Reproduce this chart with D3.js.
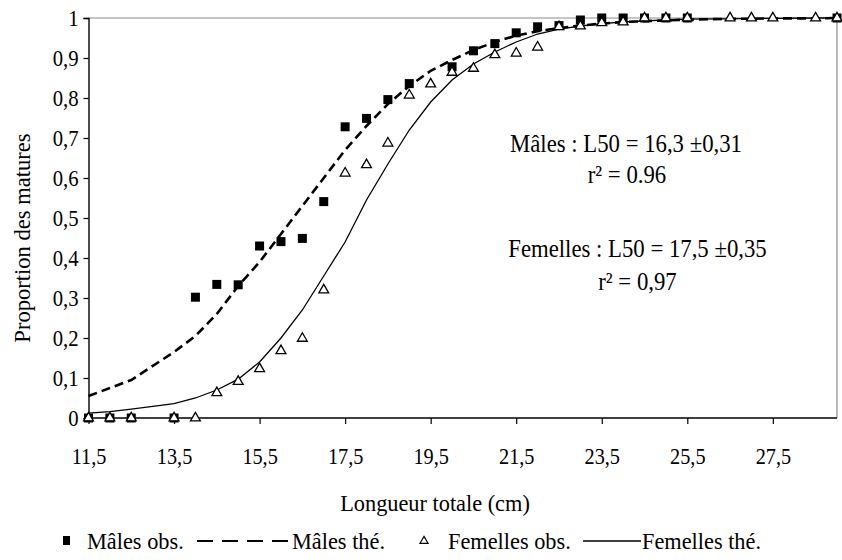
<!DOCTYPE html>
<html>
<head>
<meta charset="utf-8">
<script src="https://cdn.jsdelivr.net/npm/d3@7"></script>
<style>
  html, body { margin: 0; padding: 0; background: #fff; }
  svg { display: block; }
  text { font-family: "Liberation Serif", "DejaVu Serif", "Times New Roman", serif; fill: #000; }
</style>
</head>
<body>
<svg id="chart" width="842" height="560"></svg>
<script>
// ---- data ----
const lengths = [11.5, 12, 12.5, 13.5, 14, 14.5, 15, 15.5, 16, 16.5, 17, 17.5, 18, 18.5, 19, 19.5, 20, 20.5, 21, 21.5, 22, 22.5, 23, 23.5, 24, 24.5, 25, 25.5, 26.5, 27, 27.5, 28.5, 29];
const malesObs = [0, 0, 0, 0, 0.302, 0.334, 0.333, 0.43, 0.441, 0.449, 0.541, 0.728, 0.749, 0.796, 0.836, null, 0.878, 0.918, 0.936, 0.963, 0.978, 0.981, 0.995, 1, 1, 1, 1, 1, null, null, null, null, 1];
const malesThe = [0.055, 0.075, 0.095, 0.165, 0.205, 0.26, 0.33, 0.39, 0.46, 0.53, 0.6, 0.67, 0.73, 0.785, 0.83, 0.868, 0.895, 0.92, 0.94, 0.956, 0.967, 0.975, 0.981, 0.986, 0.99, 0.992, 0.994, 0.996, 0.998, 0.998, 0.999, 0.999, 1];
const femellesObs = [0, 0, 0, 0, 0, 0.063, 0.091, 0.123, 0.168, 0.199, 0.32, 0.612, 0.633, 0.687, 0.807, 0.835, 0.864, 0.874, 0.908, 0.912, 0.927, 0.978, 0.98, 0.988, 0.99, 1, 1, 1, 1, 1, 1, 1, 1];
const femellesThe = [0.012, 0.016, 0.022, 0.036, 0.05, 0.07, 0.097, 0.14, 0.2, 0.27, 0.355, 0.44, 0.545, 0.635, 0.72, 0.79, 0.845, 0.885, 0.915, 0.94, 0.96, 0.972, 0.98, 0.986, 0.99, 0.993, 0.995, 0.997, 0.998, 0.999, 0.999, 1, 1];
const xTicks = [11.5, 13.5, 15.5, 17.5, 19.5, 21.5, 23.5, 25.5, 27.5];
const yTicks = [0, 0.1, 0.2, 0.3, 0.4, 0.5, 0.6, 0.7, 0.8, 0.9, 1];
const xTitle = "Longueur totale (cm)";
const yTitle = "Proportion des matures";
const legendLabels = ["Mâles obs.", "Mâles thé.", "Femelles obs.", "Femelles thé."];
const notes = [
  ["Mâles : L50 = 16,3 ±0,31", "r² = 0.96"],
  ["Femelles : L50 = 17,5 ±0,35", "r² = 0,97"]
];

// ---- helpers ----
const FONT = "Liberation Serif";
function condense(sel, k) {
  sel.each(function () {
    const w = this.getComputedTextLength();
    d3.select(this).attr("textLength", w * k).attr("lengthAdjust", "spacingAndGlyphs");
  });
  return sel;
}

// ---- layout ----
const svg = d3.select("#chart");
const x = d3.scaleLinear().domain([11.5, 29]).range([88.5, 837]);
const y = d3.scaleLinear().domain([0, 1]).range([418, 18]);
const fmt = v => String(v).replace(".", ",");

// frame (gray top and right)
svg.append("line").attr("x1", x(11.5)).attr("x2", x(29)).attr("y1", y(1)).attr("y2", y(1))
  .attr("stroke", "#8c8c8c").attr("stroke-width", 1.2);
svg.append("line").attr("x1", x(29)).attr("x2", x(29)).attr("y1", y(1)).attr("y2", y(0))
  .attr("stroke", "#8c8c8c").attr("stroke-width", 1.2);

// y axis
const yAxis = svg.append("g").attr("transform", `translate(${x(11.5)},0)`)
  .call(d3.axisLeft(y).tickValues(yTicks).tickSize(5).tickPadding(5).tickFormat(fmt));
yAxis.attr("font-family", null).attr("font-size", null);
yAxis.select(".domain").attr("stroke", "#000").attr("stroke-width", 1.4);
yAxis.selectAll(".tick line").attr("stroke", "#000").attr("stroke-width", 1.2);
condense(yAxis.selectAll(".tick text").style("font-family", FONT).style("font-size", "23px").attr("fill", "#000"), 0.9);

// x axis
const xAxis = svg.append("g").attr("transform", `translate(0,${y(0)})`)
  .call(d3.axisBottom(x).tickValues(xTicks).tickSize(6).tickPadding(24).tickFormat(fmt));
xAxis.attr("font-family", null).attr("font-size", null);
xAxis.select(".domain").attr("stroke", "#000").attr("stroke-width", 1.4).attr("d", `M${x(11.5)},0H${x(29)}`);
xAxis.selectAll(".tick line").attr("stroke", "#000").attr("stroke-width", 1.2);
condense(xAxis.selectAll(".tick text").style("font-family", FONT).style("font-size", "23px").attr("fill", "#000"), 0.88);

// titles
condense(svg.append("text").attr("x", 435).attr("y", 511).attr("text-anchor", "middle")
  .style("font-size", "24px").text(xTitle), 0.93);
condense(svg.append("text").attr("transform", "translate(30,238) rotate(-90)").attr("text-anchor", "middle")
  .style("font-size", "24px").text(yTitle), 0.94);

// lines
const lineGen = arr => d3.line()
  .defined((d, i) => arr[i] != null)
  .x((d, i) => x(lengths[i]))
  .y((d, i) => y(arr[i]))(lengths);

svg.append("path").attr("d", lineGen(femellesThe)).attr("fill", "none")
  .attr("stroke", "#000").attr("stroke-width", 1.3);
svg.append("path").attr("d", lineGen(malesThe)).attr("fill", "none")
  .attr("stroke", "#000").attr("stroke-width", 2.6).attr("stroke-dasharray", "9,5");

// markers
const tri = d3.symbol().type(d3.symbolTriangle).size(42);
svg.append("g").selectAll("rect").data(lengths.map((l, i) => [l, malesObs[i]]).filter(d => d[1] != null))
  .join("rect")
  .attr("x", d => x(d[0]) - 4.5).attr("y", d => y(d[1]) - 4.5)
  .attr("width", 9).attr("height", 9).attr("fill", "#000");
svg.append("g").selectAll("path").data(lengths.map((l, i) => [l, femellesObs[i]]).filter(d => d[1] != null))
  .join("path")
  .attr("d", tri)
  .attr("transform", d => `translate(${x(d[0])},${y(d[1])})`)
  .attr("fill", "#fff").attr("stroke", "#000").attr("stroke-width", 1.3);

// annotations
const ann = [[626, 152, notes[0][0]], [627, 183, notes[0][1]], [637.5, 257, notes[1][0]], [637.5, 290, notes[1][1]]];
ann.forEach(a => condense(svg.append("text").attr("x", a[0]).attr("y", a[1]).attr("text-anchor", "middle")
  .style("font-size", "25px").text(a[2]), 0.91));

// legend
const ly = 541;
const leg = svg.append("g");
leg.append("rect").attr("x", 63).attr("y", ly - 5).attr("width", 7).attr("height", 9).attr("fill", "#000");
leg.append("line").attr("x1", 197).attr("x2", 289).attr("y1", ly).attr("y2", ly)
  .attr("stroke", "#000").attr("stroke-width", 1.8).attr("stroke-dasharray", "16,9");
leg.append("path").attr("d", d3.symbol().type(d3.symbolTriangle).size(28))
  .attr("transform", `translate(424,${ly})`).attr("fill", "#fff").attr("stroke", "#000").attr("stroke-width", 1.2);
leg.append("line").attr("x1", 583).attr("x2", 641).attr("y1", ly).attr("y2", ly)
  .attr("stroke", "#000").attr("stroke-width", 1.3);
[[87, legendLabels[0]], [292, legendLabels[1]], [448, legendLabels[2]], [642, legendLabels[3]]].forEach(l =>
  condense(leg.append("text").attr("x", l[0]).attr("y", ly + 8).style("font-size", "24px").text(l[1]), 0.93));
</script>
</body>
</html>
